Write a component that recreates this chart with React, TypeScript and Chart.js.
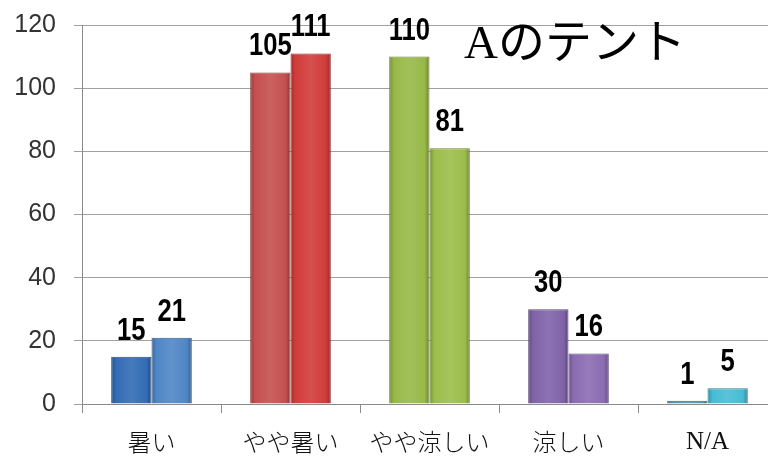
import React, { useEffect, useRef } from "react";
import { Chart, registerables } from "chart.js";

Chart.register(...registerables);

const categories = ["暑い", "やや暑い", "やや涼しい", "涼しい", "N/A"];
const seriesA = [15, 105, 110, 30, 1];
const seriesB = [21, 111, 81, 16, 5];
const colorsA = ["#336bb5", "#c4504e", "#98b948", "#7f63a8", "#4b9aa8"];
const colorsB = ["#4f86c6", "#d13c3a", "#9cbd4a", "#8a6cb2", "#46bcd4"];
const yTicks = [0, 20, 40, 60, 80, 100, 120];
const titleText = "Aのテント";

function shade(hex: string, amt: number): string {
  const n = parseInt(hex.slice(1), 16);
  let r = (n >> 16) & 255, g = (n >> 8) & 255, b = n & 255;
  const f = (c: number) => Math.max(0, Math.min(255, Math.round(amt >= 0 ? c + (255 - c) * amt : c * (1 + amt))));
  r = f(r); g = f(g); b = f(b);
  return `rgb(${r},${g},${b})`;
}

const gradientPlugin = {
  id: "barGradient",
  beforeDatasetsDraw(chart: any) {
    const ctx = chart.ctx;
    chart.data.datasets.forEach((ds: any, di: number) => {
      const meta = chart.getDatasetMeta(di);
      meta.data.forEach((el: any, i: number) => {
        const base = (di === 0 ? colorsA : colorsB)[i];
        const left = el.x - el.width / 2;
        const right = el.x + el.width / 2;
        const g = ctx.createLinearGradient(left, 0, right, 0);
        g.addColorStop(0, shade(base, -0.25));
        g.addColorStop(0.12, base);
        g.addColorStop(0.5, shade(base, 0.1));
        g.addColorStop(0.88, base);
        g.addColorStop(1, shade(base, -0.3));
        el.options.backgroundColor = g;
        el.options.borderColor = shade(base, -0.3);
      });
    });
  },
};

const labelPlugin = {
  id: "valueLabels",
  afterDatasetsDraw(chart: any) {
    const ctx = chart.ctx;
    chart.data.datasets.forEach((ds: any, di: number) => {
      const meta = chart.getDatasetMeta(di);
      meta.data.forEach((el: any, i: number) => {
        ctx.save();
        ctx.font = 'bold 32px "Liberation Sans", Arial, sans-serif';
        ctx.fillStyle = "#000";
        ctx.textAlign = "center";
        ctx.textBaseline = "alphabetic";
        ctx.translate(el.x, el.y - 17);
        ctx.scale(0.8, 1);
        ctx.fillText(String(ds.data[i]), 0, 0);
        ctx.restore();
      });
    });
  },
};

const titlePlugin = {
  id: "cornerTitle",
  afterDraw(chart: any) {
    const ctx = chart.ctx;
    ctx.save();
    ctx.font = '47px "Liberation Serif", "Noto Sans CJK JP", serif';
    ctx.fillStyle = "#000";
    ctx.textAlign = "left";
    ctx.textBaseline = "alphabetic";
    ctx.fillText(titleText, 464, 58);
    ctx.restore();
  },
};

export default function App() {
  const ref = useRef<HTMLCanvasElement | null>(null);
  useEffect(() => {
    if (!ref.current) return;
    const chart = new Chart(ref.current, {
      type: "bar",
      data: {
        labels: categories,
        datasets: [
          {
            label: "1",
            data: seriesA,
            backgroundColor: colorsA,
            borderWidth: 1,
            categoryPercentage: 0.58,
            barPercentage: 1.0,
          },
          {
            label: "2",
            data: seriesB,
            backgroundColor: colorsB,
            borderWidth: 1,
            categoryPercentage: 0.58,
            barPercentage: 1.0,
          },
        ],
      },
      options: {
        animation: false,
        responsive: false,
        maintainAspectRatio: false,
        layout: { padding: { top: 25, right: 1, left: 0, bottom: 0 } },
        plugins: {
          legend: { display: false },
          tooltip: { enabled: false },
          title: { display: false },
        },
        scales: {
          x: {
            grid: {
              display: true,
              offset: true,
              drawOnChartArea: false,
              drawTicks: true,
              tickLength: 9,
              color: "#8a8a8a",
            },
            border: { display: true, color: "#8a8a8a", width: 1 },
            ticks: {
              padding: 14,
              color: "#111",
              font: (c: any) =>
                c.index === 4
                  ? { family: '"Liberation Serif", serif', size: 25, weight: "normal" }
                  : { family: '"Noto Sans CJK JP", sans-serif', size: 24, weight: "300" },
            },
            afterFit(scale: any) {
              scale.height = 60;
              scale.paddingLeft = 0;
              scale.paddingRight = 0;
            },
          },
          y: {
            min: 0,
            max: 120,
            afterBuildTicks(scale: any) {
              scale.ticks = yTicks.map((v) => ({ value: v }));
            },
            grid: {
              color: "#a0a0a0",
              drawTicks: true,
              tickLength: 8,
            },
            border: { display: true, color: "#8a8a8a", width: 1 },
            ticks: {
              padding: 18,
              color: "#333",
              font: { family: '"Liberation Sans", Arial, sans-serif', size: 25, weight: "normal" },
            },
            afterFit(scale: any) {
              scale.width = 82;
              scale.paddingTop = 0;
              scale.paddingBottom = 0;
            },
          },
        },
      },
      plugins: [gradientPlugin, labelPlugin, titlePlugin],
    });
    return () => chart.destroy();
  }, []);

  return (
    <div
      style={{
        position: "fixed",
        left: 0,
        top: 0,
        width: 768,
        height: 464,
        overflow: "hidden",
        background: "#fff",
      }}
    >
      <canvas ref={ref} width={778} height={464} style={{ width: 778, height: 464, display: "block" }} />
    </div>
  );
}
